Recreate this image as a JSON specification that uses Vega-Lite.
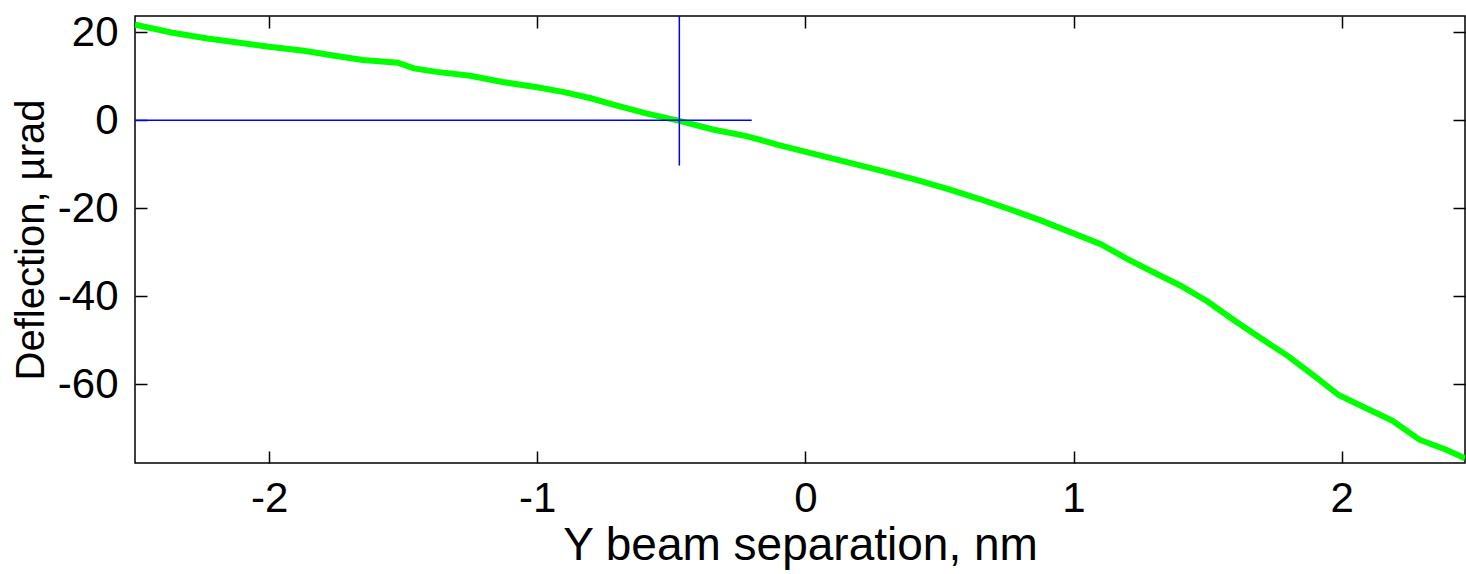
{
  "$schema": "https://vega.github.io/schema/vega-lite/v6.json",
  "autosize": "none",
  "width": 1330,
  "height": 447,
  "padding": {"left": 135, "top": 16, "right": 1, "bottom": 111},
  "background": "white",
  "config": {
    "view": {"stroke": "black", "strokeWidth": 1.5},
    "font": "Liberation Sans",
    "axis": {
      "grid": false,
      "domain": false,
      "tickColor": "black",
      "tickWidth": 1.5,
      "tickSize": -12,
      "labelFont": "Liberation Sans",
      "labelFontSize": 42,
      "labelColor": "black",
      "titleFont": "Liberation Sans",
      "titleFontWeight": "normal",
      "titleColor": "black"
    }
  },
  "datasets": {
    "curve": [
      {"sep": -2.5, "defl": 21.7},
      {"sep": -2.36, "defl": 19.9},
      {"sep": -2.23, "defl": 18.6},
      {"sep": -2.11, "defl": 17.6},
      {"sep": -2.0, "defl": 16.7},
      {"sep": -1.87, "defl": 15.8},
      {"sep": -1.75, "defl": 14.6},
      {"sep": -1.65, "defl": 13.7},
      {"sep": -1.52, "defl": 13.1},
      {"sep": -1.46, "defl": 11.8},
      {"sep": -1.375, "defl": 11.0},
      {"sep": -1.25, "defl": 10.1},
      {"sep": -1.13, "defl": 8.7},
      {"sep": -1.0, "defl": 7.5},
      {"sep": -0.9, "defl": 6.4},
      {"sep": -0.8, "defl": 5.0},
      {"sep": -0.72, "defl": 3.6},
      {"sep": -0.59, "defl": 1.5},
      {"sep": -0.47, "defl": -0.15},
      {"sep": -0.345, "defl": -2.1},
      {"sep": -0.22, "defl": -3.6},
      {"sep": -0.095, "defl": -5.7},
      {"sep": 0.028, "defl": -7.6},
      {"sep": 0.155, "defl": -9.5},
      {"sep": 0.278, "defl": -11.4},
      {"sep": 0.4, "defl": -13.3},
      {"sep": 0.53, "defl": -15.6},
      {"sep": 0.65, "defl": -17.9},
      {"sep": 0.77, "defl": -20.4},
      {"sep": 0.875, "defl": -22.7},
      {"sep": 1.0, "defl": -25.7},
      {"sep": 1.1, "defl": -28.1},
      {"sep": 1.2, "defl": -31.5},
      {"sep": 1.3, "defl": -34.6},
      {"sep": 1.4, "defl": -37.6},
      {"sep": 1.5, "defl": -41.2},
      {"sep": 1.6, "defl": -45.5},
      {"sep": 1.7, "defl": -49.6},
      {"sep": 1.8, "defl": -53.6},
      {"sep": 1.9, "defl": -58.2},
      {"sep": 1.99, "defl": -62.5},
      {"sep": 2.09, "defl": -65.4},
      {"sep": 2.19, "defl": -68.3},
      {"sep": 2.29, "defl": -72.6},
      {"sep": 2.39, "defl": -74.9},
      {"sep": 2.46, "defl": -76.8}
    ],
    "cross": [
      {"sep": -2.5, "sep2": -0.2, "defl": 0, "defl2": 0},
      {"sep": -0.47, "sep2": -0.47, "defl": -10.3, "defl2": 23.7}
    ]
  },
  "layer": [
    {
      "data": {"name": "curve"},
      "mark": {"type": "line", "color": "#00ff00", "strokeWidth": 6, "clip": true},
      "encoding": {
        "x": {
          "field": "sep", "type": "quantitative",
          "scale": {"domain": [-2.5, 2.46], "nice": false, "zero": false},
          "axis": {"orient": "bottom", "values": [-2, -1, 0, 1, 2], "title": "Y beam separation, nm", "titleFontSize": 46, "labelPadding": 27, "titlePadding": 4, "labelExpr": "toString(datum.value)"}
        },
        "y": {
          "field": "defl", "type": "quantitative",
          "scale": {"domain": [-77.9, 23.7], "nice": false, "zero": false},
          "axis": {"orient": "left", "values": [-60, -40, -20, 0, 20], "title": "Deflection, µrad", "titleFontSize": 40, "labelPadding": 29, "titlePadding": 6, "labelExpr": "toString(datum.value)"}
        }
      }
    },
    {
      "data": {"name": "cross"},
      "mark": {"type": "rule", "color": "#0000ff", "strokeWidth": 1.5, "clip": true},
      "encoding": {
        "x": {"field": "sep", "type": "quantitative", "axis": {"orient": "top", "values": [-2, -1, 0, 1, 2], "labels": false, "title": null}},
        "x2": {"field": "sep2"},
        "y": {"field": "defl", "type": "quantitative", "axis": {"orient": "right", "values": [-60, -40, -20, 0, 20], "labels": false, "title": null}},
        "y2": {"field": "defl2"}
      }
    }
  ],
  "resolve": {"axis": {"x": "independent", "y": "independent"}}
}
